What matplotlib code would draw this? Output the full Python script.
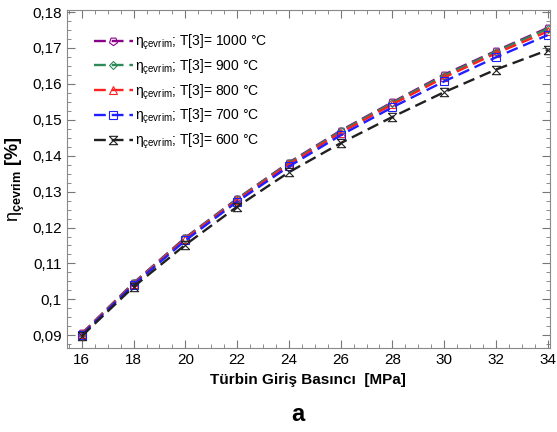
import numpy as np
import matplotlib.pyplot as plt
from matplotlib.ticker import MultipleLocator, FuncFormatter

plt.rcParams['font.family'] = ['Liberation Sans', 'DejaVu Sans']
plt.rcParams['mathtext.fontset'] = 'custom'
plt.rcParams['mathtext.rm'] = 'Liberation Sans'
plt.rcParams['mathtext.it'] = 'Liberation Sans'

# data
pressure = [16, 18, 20, 22, 24, 26, 28, 30, 32, 34]
eta_1000 = [0.0905, 0.1046, 0.1172, 0.1280, 0.1381, 0.1470, 0.1549, 0.1626, 0.1692, 0.1756]
eta_900 = [0.0904, 0.1045, 0.1170, 0.1279, 0.1379, 0.1468, 0.1547, 0.1623, 0.1690, 0.1753]
eta_800 = [0.0903, 0.1043, 0.1168, 0.1276, 0.1376, 0.1464, 0.1543, 0.1618, 0.1685, 0.1746]
eta_700 = [0.0901, 0.1041, 0.1164, 0.1272, 0.1370, 0.1457, 0.1535, 0.1607, 0.1674, 0.1736]
eta_600 = [0.0898, 0.1035, 0.1152, 0.1258, 0.1354, 0.1435, 0.1508, 0.1577, 0.1640, 0.1694]
temps = [1000, 900, 800, 700, 600]

hourglass = [(-1, 1), (1, 1), (-1, -1), (1, -1), (-1, 1)]
series = [
    (eta_1000, '#8b008b', (5, 0, 180)),
    (eta_900, '#2e8b57', 'D'),
    (eta_800, '#ff2020', '^'),
    (eta_700, '#1f1fff', 's'),
    (eta_600, '#202020', hourglass),
]

fig = plt.figure(figsize=(5.57, 4.32), dpi=100)
ax = fig.add_axes([0.120, 0.194, 0.867, 0.783])

for (vals, col, mk), t in zip(series, temps):
    ax.plot(pressure, vals, color=col, ls=(0, (5, 2.5)), lw=1.7,
            marker=mk, markersize=6 if mk != 'D' else 4.5,
            markerfacecolor='none', markeredgecolor=col, markeredgewidth=0.8,
            label=r'$\eta_{\mathregular{çevrim}}$' + '; T[3]= %d °C' % t)

ax.set_xlim(15.42, 34.08)
ax.set_ylim(0.0864, 0.1806)
ax.xaxis.set_major_locator(MultipleLocator(2))
ax.xaxis.set_minor_locator(MultipleLocator(0.5))
ax.yaxis.set_major_locator(MultipleLocator(0.01))
ax.yaxis.set_minor_locator(MultipleLocator(0.0025))
ax.yaxis.set_major_formatter(FuncFormatter(lambda v, p: ('%.2f' % v).rstrip('0').replace('.', ',')))
ax.tick_params(which='both', direction='in', top=True, right=True, color='#777777', labelsize=11)
ax.tick_params(which='major', length=6)
ax.tick_params(which='minor', length=3)
for s in ax.spines.values():
    s.set_color('#888888')

ax.set_xlabel('Türbin Giriş Basıncı  [MPa]', fontsize=11, fontweight='bold', labelpad=4)
ax.set_ylabel(r'$\eta_{\mathregular{çevrim}}$ [%]', fontsize=13, fontweight='bold')
ax.legend(loc='upper left', frameon=False, fontsize=10, handlelength=2.8,
          handletextpad=0.2, labelspacing=0.4, bbox_to_anchor=(0.03, 0.97))
fig.text(0.535, 0.025, 'a', fontsize=17, fontweight='bold', ha='center')

plt.savefig('out.png')
